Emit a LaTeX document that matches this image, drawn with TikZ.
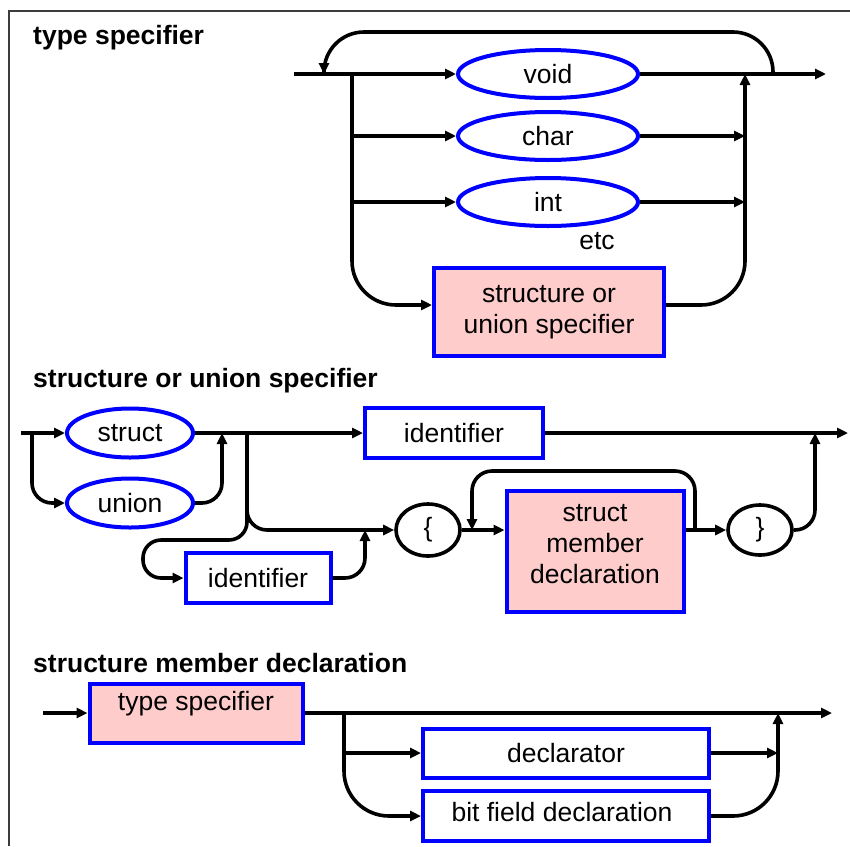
\documentclass[tikz,border=0pt]{standalone}
\usepackage{fontspec}
\setmainfont{Liberation Sans}
\usetikzlibrary{arrows.meta,shapes.geometric}
\definecolor{boxblue}{RGB}{0,0,255}
\definecolor{boxpink}{RGB}{255,204,204}
\definecolor{framegray}{RGB}{60,60,60}
\begin{document}
\begin{tikzpicture}[x=1pt,y=-1pt,
  conn/.style={line width=3.6pt},
  arr/.style={conn,-{Triangle[length=11pt,width=10pt]}},
  lbl/.style={font=\fontsize{26.5}{31}\selectfont},
  title/.style={font=\bfseries\fontsize{26.5}{32}\selectfont, anchor=base west, inner sep=0pt},
  oval/.style={ellipse, draw=boxblue, line width=4pt, fill=white, inner sep=0pt, lbl},
  plainbox/.style={rectangle, draw=boxblue, line width=4pt, fill=white, inner sep=0pt, lbl, align=center},
  pinkbox/.style={plainbox, fill=boxpink},
  brace/.style={ellipse, draw=black, line width=3.6pt, fill=white, inner sep=0pt,
    minimum width=64pt, minimum height=52pt, lbl}]
\useasboundingbox (0,0) rectangle (850,846);

% outer frame
\draw[framegray, line width=2pt] (850,11) -- (9,11) -- (9,846);

% headings
\node[title] (t1) at (33,44) {type specifier};
\node[title] (t2) at (33,387) {structure or union specifier};
\node[title] (t3) at (33,672) {structure member declaration};

% ---------- type specifier ----------
\node[oval, minimum width=180pt, minimum height=48pt] (void) at (548,74) {void};
\node[oval, minimum width=180pt, minimum height=48pt] (char) at (548,136) {char};
\node[oval, minimum width=180pt, minimum height=48pt] (int) at (548,202) {int};
\node[lbl] (etc) at (597,241) {etc};
\node[pinkbox, minimum width=230pt, minimum height=88pt] (sus) at (549,312) {structure or\\union specifier};

\coordinate (in1) at (294,74);
\coordinate (out1) at (826,74);
\coordinate (split1) at (352,74);
\coordinate (merge1) at (745,74);
\coordinate (loopR) at (773,74);
\coordinate (loopL) at (324,74);

\draw[arr] (in1) -- (void.west);
\draw[arr] (void.east) -- (out1);
\draw[arr, rounded corners=40pt] (loopR) -- ++(0,-42) -| (loopL);
\draw[arr, rounded corners=44pt] (split1) |- ([yshift=7pt]sus.west);
\draw[arr] (split1 |- char.west) -- (char.west);
\draw[arr] (split1 |- int.west) -- (int.west);
\draw[arr] (char.east) -- (char.east -| merge1);
\draw[arr] (int.east) -- (int.east -| merge1);
\draw[arr, rounded corners=44pt] ([yshift=7pt]sus.east) -| (merge1);

% ---------- structure or union specifier ----------
\node[oval, minimum width=126pt, minimum height=49pt] (struct) at (130,433) {struct};
\node[oval, minimum width=126pt, minimum height=49pt] (union) at (130,503) {union};
\node[plainbox, minimum width=178pt, minimum height=50pt] (id1) at (454,433) {identifier};
\node[plainbox, minimum width=145pt, minimum height=50pt] (id2) at (258,578) {identifier};
\node[brace] (lbr) at (428,530) {\{};
\node[pinkbox, minimum width=177pt, minimum height=121pt] (smd) at (595,551) {};
\node[lbl, align=center] (smdtext) at (595,544) {struct\\member\\declaration};
\node[brace, minimum height=50pt] (rbr) at (760,530) {\}};

\coordinate (in2) at (21,433);
\coordinate (split2a) at (32,433);
\coordinate (merge2a) at (222,433);
\coordinate (split2b) at (247,433);
\coordinate (merge2b) at (365,530);
\coordinate (merge2c) at (815,433);
\coordinate (out2) at (848,433);
\coordinate (loopR2) at (695,530);
\coordinate (loopL2) at (472,530);

\draw[arr] (in2) -- (struct.west);
\draw[arr, rounded corners=20pt] (split2a) |- (union.west);
\draw[arr, rounded corners=20pt] (union.east) -| (merge2a);
\draw[arr] (struct.east) -- (id1.west);
\draw[arr] (id1.east) -- (out2);
\draw[arr, rounded corners=20pt] (split2b) |- (lbr.west);
\draw[arr, rounded corners=18pt] (split2b) -- (247,540) -- (143,540) -- (143,578) -- (id2.west);
\draw[arr, rounded corners=20pt] (id2.east) -| (merge2b);
\draw[arr] (lbr.east) -- (lbr.east -| smd.west);
\draw[arr, rounded corners=20pt] (loopR2) -- (695,471) -| (loopL2);
\draw[arr] (smd.east |- rbr.west) -- (rbr.west);
\draw[arr, rounded corners=20pt] (rbr.east) -| (merge2c);

% ---------- structure member declaration ----------
\node[pinkbox, minimum width=213pt, minimum height=59pt] (ts) at (196,713) {};
\node[lbl] (tstext) at (196,704) {type specifier};
\node[plainbox, minimum width=286pt, minimum height=49pt] (decl) at (566,753) {declarator};
\node[plainbox, minimum width=286pt, minimum height=50pt] (bf) at (566,816) {};
\node[lbl] (bftext) at (562,812) {bit field declaration};

\coordinate (in3) at (43,713);
\coordinate (out3) at (832,713);
\coordinate (split3) at (344,713);
\coordinate (merge3) at (778,713);

\draw[arr] (in3) -- (ts.west);
\draw[arr] (ts.east) -- (out3);
\draw[arr, rounded corners=45pt] (split3) |- (bf.west);
\draw[arr] (decl.west -| split3) -- (decl.west);
\draw[arr] (decl.east) -- (decl.east -| merge3);
\draw[arr, rounded corners=45pt] (bf.east) -| (merge3);
\end{tikzpicture}
\end{document}
